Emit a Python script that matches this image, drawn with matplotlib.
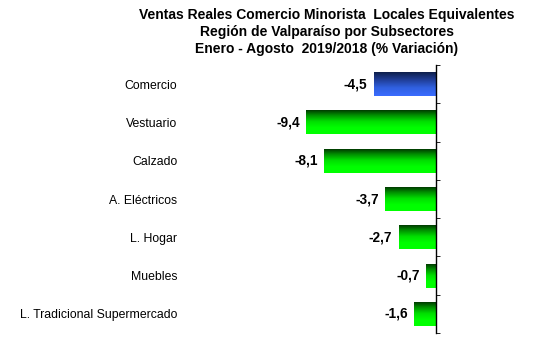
import numpy as np
import matplotlib.pyplot as plt
from matplotlib.colors import LinearSegmentedColormap

plt.rcParams['font.family'] = ['Liberation Sans', 'DejaVu Sans']

# datos
categorias = ["Comercio", "Vestuario", "Calzado", "A. Eléctricos",
              "L. Hogar", "Muebles", "L. Tradicional Supermercado"]
variacion = [-4.5, -9.4, -8.1, -3.7, -2.7, -0.7, -1.6]
titulo = ("Ventas Reales Comercio Minorista  Locales Equivalentes\n"
          "Región de Valparaíso por Subsectores\n"
          "Enero - Agosto  2019/2018 (% Variación)")

verde = LinearSegmentedColormap.from_list("verde", ["#002a00", "#009000", "#00e000", "#00ff00", "#00ff00"])
azul = LinearSegmentedColormap.from_list("azul", ["#0b1a40", "#1f3c94", "#3060e0", "#3a6cff"])

fig = plt.figure(figsize=(5.48, 3.5), dpi=100)
ax = fig.add_axes([183 / 548, 17 / 350, 253 / 548, 268 / 350])

y = np.arange(len(categorias))
bars = ax.barh(y, variacion, height=0.63, color="none", edgecolor="none")

# relleno degradado dentro de cada barra
grad = np.linspace(0, 1, 256).reshape(-1, 1)
for i, b in enumerate(bars):
    x0, y0 = b.get_x(), b.get_y()
    w, h = b.get_width(), b.get_height()
    cm = azul if i == 0 else verde
    im = ax.imshow(grad, cmap=cm, aspect="auto",
                   extent=[x0, x0 + w, y0 + h, y0], zorder=2)
    im.set_clip_path(b)

for i, v in enumerate(variacion):
    ax.text(v - 0.45, y[i], f"{v:.1f}".replace(".", ","), ha="right", va="center",
            fontsize=9.8, fontweight="bold")

ax.set_xlim(-18.3, 0)
ax.set_ylim(len(categorias) - 0.5, -0.5)
ax.set_yticks(y)
ax.set_yticklabels(categorias, fontsize=8.8)
ax.tick_params(axis="y", which="major", length=0, pad=4)
ax.set_yticks(np.arange(-0.5, len(categorias), 1), minor=True)
ax.tick_params(axis="y", which="minor", right=True, left=False, direction="out", length=3)
ax.set_xticks([])
for s in ["left", "top", "bottom"]:
    ax.spines[s].set_visible(False)
ax.spines["right"].set_linewidth(1)

fig.text(327 / 548, 1 - 8 / 350, titulo, ha="center", va="top",
         fontsize=10, fontweight="bold", linespacing=1.28)

fig.savefig("out.png", dpi=100)
